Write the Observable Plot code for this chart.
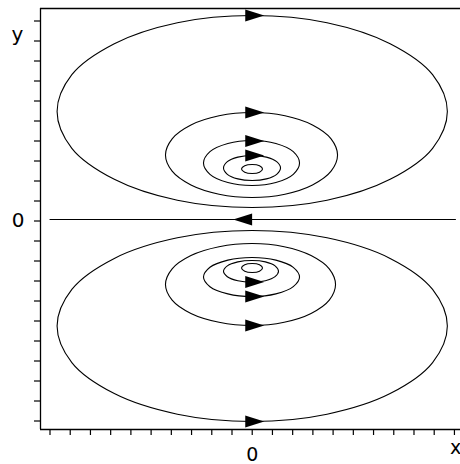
<!DOCTYPE html>
<html>
<head>
<meta charset="utf-8">
<script src="https://cdn.jsdelivr.net/npm/d3@7"></script>
<script src="https://cdn.jsdelivr.net/npm/@observablehq/plot@0.6"></script>
<style>
  html, body { margin: 0; padding: 0; background: #fff; }
</style>
</head>
<body>
<div id="chart"></div>
<script>
// ---- Data (phase-plane orbits) ----
const xDomain = [-10.47, 10.3];
const yDomain = [-10.5, 10.55];
const xTicks = [-10,-9,-8,-7,-6,-5,-4,-3,-2,-1,0,1,2,3,4,5,6,7,8,9,10];
const yTicks = [-10,-9,-8,-7,-6,-5,-4,-3,-2,-1,0,1,2,3,4,5,6,7,8,9,10];
const axisLabelX = "x";
const axisLabelY = "y";

// Closed orbits in the upper half-plane (points along each orbit)
const upperOrbits = [
  [[9.65,5.4],[8.92,7.24],[6.82,8.79],[3.70,9.84],[0,10.2],[-3.70,9.84],[-6.82,8.79],[-8.92,7.24],[-9.65,5.4],[-8.92,3.56],[-6.82,2.01],[-3.70,0.96],[0,0.6],[3.70,0.96],[6.82,2.01],[8.92,3.56]],
  [[4.22,3.225],[3.90,4.035],[2.98,4.725],[1.62,5.185],[0,5.35],[-1.64,5.185],[-3.03,4.725],[-3.96,4.035],[-4.29,3.225],[-3.96,2.415],[-3.03,1.725],[-1.64,1.265],[0,1.1],[1.62,1.265],[2.98,1.725],[3.90,2.415]],
  [[2.34,2.825],[2.03,3.39],[1.17,3.80],[0,3.95],[-1.205,3.80],[-2.09,3.39],[-2.41,2.825],[-2.09,2.26],[-1.205,1.85],[0,1.7],[1.17,1.85],[2.03,2.26]],
  [[1.40,2.575],[1.21,2.89],[0.70,3.12],[0,3.2],[-0.71,3.12],[-1.23,2.89],[-1.42,2.575],[-1.23,2.26],[-0.71,2.03],[0,1.95],[0.70,2.03],[1.21,2.26]],
  [[0.51,2.525],[0.36,2.685],[0,2.75],[-0.37,2.685],[-0.53,2.525],[-0.37,2.365],[0,2.3],[0.36,2.365]]
];
// Closed orbits in the lower half-plane
const lowerOrbits = [
  [[9.65,-5.325],[8.92,-3.495],[6.82,-1.945],[3.70,-0.915],[0,-0.55],[-3.70,-0.915],[-6.82,-1.945],[-8.92,-3.495],[-9.65,-5.325],[-8.92,-7.155],[-6.82,-8.705],[-3.70,-9.735],[0,-10.1],[3.70,-9.735],[6.82,-8.705],[8.92,-7.155]],
  [[4.12,-3.25],[3.81,-2.465],[2.91,-1.8],[1.58,-1.36],[0,-1.2],[-1.64,-1.36],[-3.03,-1.8],[-3.96,-2.465],[-4.29,-3.25],[-3.96,-4.035],[-3.03,-4.7],[-1.64,-5.14],[0,-5.3],[1.58,-5.14],[2.91,-4.7],[3.81,-4.035]],
  [[2.34,-2.875],[2.03,-2.39],[1.17,-2.03],[0,-1.9],[-1.205,-2.03],[-2.09,-2.39],[-2.41,-2.875],[-2.09,-3.36],[-1.205,-3.72],[0,-3.85],[1.17,-3.72],[2.03,-3.36]],
  [[1.30,-2.59],[1.13,-2.32],[0.65,-2.12],[0,-2.05],[-0.71,-2.12],[-1.23,-2.32],[-1.42,-2.59],[-1.23,-2.86],[-0.71,-3.06],[0,-3.13],[0.65,-3.06],[1.13,-2.86]],
  [[0.51,-2.425],[0.36,-2.265],[0,-2.2],[-0.37,-2.265],[-0.53,-2.425],[-0.37,-2.585],[0,-2.65],[0.36,-2.585]]
];
// Trajectory lying on the x-axis
const axisTrajectory = [[10.05,0],[-10.0,0]];

// Direction arrows: position and heading (degrees; 0 = pointing right)
const arrowX = [0, 0, 0, 0, 0, 0, 0, 0, -0.35];
const arrowY = [10.2, 5.35, 3.93, 3.2, -10.1, -5.3, -3.85, -3.12, 0];
const arrowAngle = [0, 0, 0, 0, 0, 0, 0, 0, 180];

// ---- Build tables ----
const orbitRows = [];
upperOrbits.forEach((o, i) => o.forEach(([x, y]) => orbitRows.push({id: "u" + i, x, y})));
lowerOrbits.forEach((o, i) => o.forEach(([x, y]) => orbitRows.push({id: "l" + i, x, y})));
const trajRows = axisTrajectory.map(([x, y]) => ({x, y}));
const arrows = arrowX.map((x, i) => ({x, y: arrowY[i], a: arrowAngle[i]}));

const arrowSymbol = {
  draw(ctx) {
    ctx.moveTo(-7, -6);
    ctx.lineTo(12, 0);
    ctx.lineTo(-7, 6);
    ctx.closePath();
  }
};

const chart = Plot.plot({
  width: 460,
  height: 464,
  marginLeft: 40,
  marginRight: 0,
  marginTop: 8,
  marginBottom: 35,
  style: {fontFamily: "DejaVu Sans, sans-serif", fontSize: "20px", background: "#fff", color: "#000"},
  x: {domain: xDomain},
  y: {domain: yDomain},
  marks: [
    Plot.axisX({ticks: xTicks, tickFormat: d => d === 0 ? "0" : "", tickSize: 6, tickPadding: 11.5, label: null, fontSize: 19, strokeWidth: 1.2}),
    Plot.axisY({ticks: yTicks, tickFormat: d => d === 0 ? "0" : "", tickSize: 6, tickPadding: 10, label: null, fontSize: 20, dy: 1.5, strokeWidth: 1.2}),
    Plot.ruleX([xDomain[0]], {stroke: "#000", strokeWidth: 1.3}),
    Plot.ruleY([yDomain[0]], {stroke: "#000", strokeWidth: 1.3}),
    Plot.ruleY([yDomain[1]], {stroke: "#000", strokeWidth: 1.3}),
    Plot.line(orbitRows, {x: "x", y: "y", z: "id", curve: "catmull-rom-closed", stroke: "#000", strokeWidth: 1.1}),
    Plot.line(trajRows, {x: "x", y: "y", stroke: "#000", strokeWidth: 1.1}),
    Plot.dot(arrows, {x: "x", y: "y", rotate: "a", symbol: arrowSymbol, fill: "#000", stroke: "none"}),
    Plot.text([axisLabelY], {frameAnchor: "top-left", text: d => d, dx: -23, dy: 18.6, textAnchor: "middle", fontSize: 20}),
    Plot.text([axisLabelX], {frameAnchor: "bottom-right", text: d => d, dx: -5, dy: 24.9, textAnchor: "middle", fontSize: 19})
  ]
});
document.getElementById("chart").appendChild(chart);
</script>
</body>
</html>
